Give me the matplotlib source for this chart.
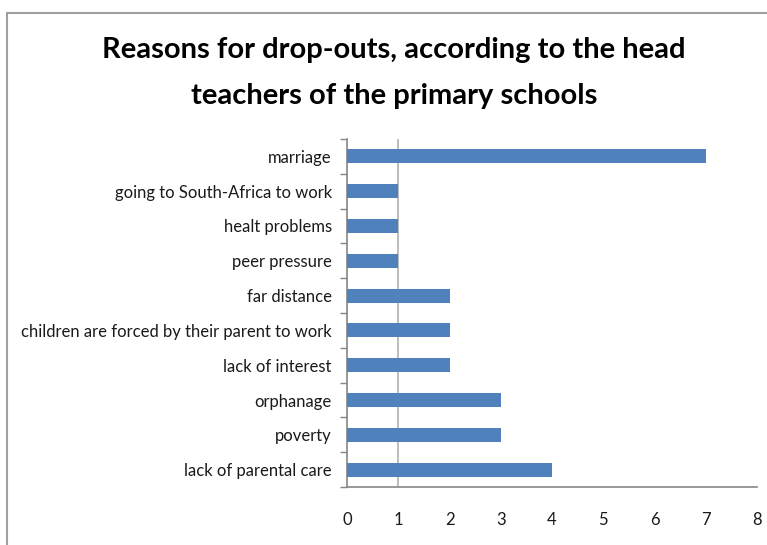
import matplotlib.pyplot as plt
from matplotlib.patches import Rectangle

reasons = [
    "lack of parental care",
    "poverty",
    "orphanage",
    "lack of interest",
    "children are forced by their parent to work",
    "far distance",
    "peer pressure",
    "healt problems",
    "going to South-Africa to work",
    "marriage",
]
counts = [4, 3, 3, 2, 2, 2, 1, 1, 1, 7]
x_ticks = [0, 1, 2, 3, 4, 5, 6, 7, 8]

plt.rcParams["font.family"] = ["Lato", "DejaVu Sans"]

fig = plt.figure(figsize=(7.67, 5.45), dpi=100)
ax = fig.add_axes([0.4524, 0.1064, 0.987 - 0.4524, 0.745 - 0.1064])

# outer chart frame
fig.patches.append(Rectangle((7 / 767, -0.1), 1.2, (545 - 13) / 545 + 0.1,
                             transform=fig.transFigure, fill=False,
                             edgecolor="#a0a0a0", linewidth=1.5))

pos = list(range(len(reasons)))
ax.barh(pos, counts, height=0.4, color="#4f81bd", zorder=3)
ax.axvline(1, color="#b0b0b0", linewidth=1.2, zorder=1)

ax.set_xlim(0, 8)
ax.set_ylim(-0.5, len(reasons) - 0.5)
ax.set_xticks(x_ticks)
ax.set_xticklabels([str(t) for t in x_ticks])
ax.set_xticks([0, 1, 8], minor=True)
ax.tick_params(axis="x", which="major", length=0, pad=18, labelsize=12,
               labelcolor="#1a1a1a")
ax.tick_params(axis="x", which="minor", length=6, width=1, color="#a0a0a0")

ax.set_yticks(pos)
ax.set_yticklabels(reasons)
ax.set_yticks([p - 0.5 for p in pos] + [len(reasons) - 0.5], minor=True)
ax.tick_params(axis="y", which="major", length=0, pad=11, labelsize=12,
               labelcolor="#1a1a1a")
ax.tick_params(axis="y", which="minor", length=5, width=1, color="#868686")

for side in ["top", "right"]:
    ax.spines[side].set_visible(False)
for side in ["left", "bottom"]:
    ax.spines[side].set_color("#868686")
    ax.spines[side].set_linewidth(1.2)

fig.text(394 / 767, 1 - 73 / 545,
         "Reasons for drop-outs, according to the head\nteachers of the primary schools",
         ha="center", va="center", fontsize=21, fontweight="bold",
         linespacing=1.95, color="black")

fig.savefig("out.png", dpi=100)
